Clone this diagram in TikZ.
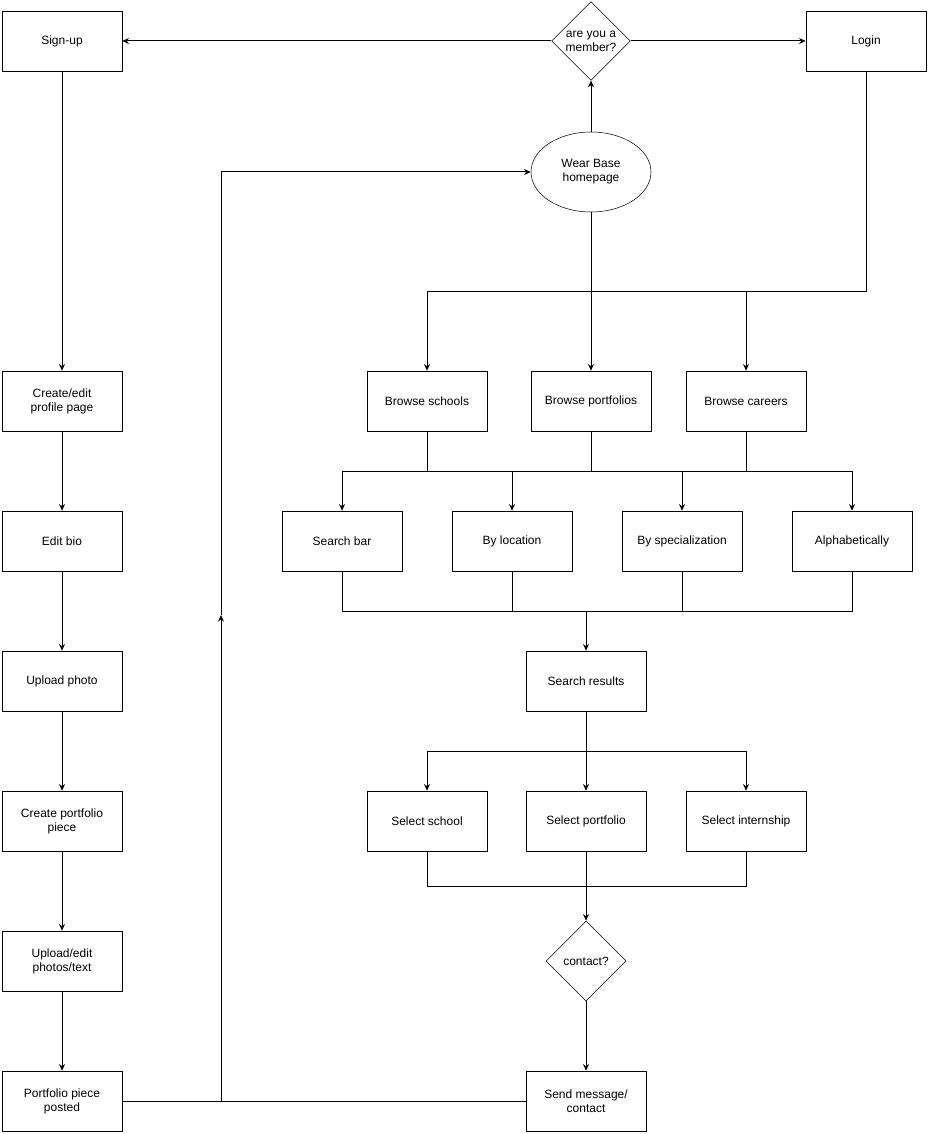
\documentclass[tikz,border=0pt]{standalone}
\usepackage{fontspec}
\setmainfont{Liberation Sans}
\usetikzlibrary{shapes.geometric,arrows.meta}
\begin{document}
\begin{tikzpicture}[x=0.75pt,y=-0.75pt,
  every node/.style={font=\fontsize{9}{10.5}\selectfont, align=center},
  box/.style={draw, rectangle, minimum width=90pt, minimum height=45pt, inner sep=0pt},
  dec/.style={draw, diamond, minimum width=60pt, minimum height=60pt, inner sep=0pt, aspect=1},
  oval/.style={draw, ellipse, minimum width=90pt, minimum height=60pt, inner sep=0pt},
  ln/.style={line width=0.75pt},
  arr/.style={ln, -{Stealth[length=5pt,width=4.5pt]}}]
\useasboundingbox (0,0) rectangle (937,1134);
% nodes
\node[box] (signup) at (62,41) {Sign-up};
\node[dec, minimum width=59pt, minimum height=59pt] (member) at (591,41) {are you a\\member?};
\node[box] (login) at (866,41) {Login};
\node[oval] (home) at (591,172) {Wear Base\\homepage};
\node[box] (profile) at (62,401) {Create/edit\\profile page};
\node[box] (bio) at (62,541) {Edit bio};
\node[box] (photo) at (62,681) {Upload photo};
\node[box] (piece) at (62,821) {Create portfolio\\piece};
\node[box] (uptext) at (62,961) {Upload/edit\\photos/text};
\node[box] (posted) at (62,1101) {Portfolio piece\\posted};
\node[box] (bschools) at (427,401) {Browse schools};
\node[box] (bport) at (591,401) {Browse portfolios};
\node[box] (bcareers) at (746,401) {Browse careers};
\node[box] (sbar) at (342,541) {Search bar};
\node[box] (loc) at (512,541) {By location};
\node[box] (spec) at (682,541) {By specialization};
\node[box] (alpha) at (852,541) {Alphabetically};
\node[box] (results) at (586,681) {Search results};
\node[box] (sschool) at (427,821) {Select school};
\node[box] (sport) at (586,821) {Select portfolio};
\node[box] (sintern) at (746,821) {Select internship};
\node[dec] (contact) at (586,961) {contact?};
\node[box] (send) at (586,1101) {Send message/\\contact};
% junction coordinates
\coordinate (j1) at (866,291);
\coordinate (j2) at (427,291);
\coordinate (j3) at (746,291);
\coordinate (k1) at (342,471);
\coordinate (k2) at (852,471);
\coordinate (m1) at (342,611);
\coordinate (m2) at (852,611);
\coordinate (m3) at (586,611);
\coordinate (n1) at (427,751);
\coordinate (n2) at (746,751);
\coordinate (n3) at (586,751);
\coordinate (p1) at (427,886);
\coordinate (p2) at (746,886);
\coordinate (p3) at (586,886);
\coordinate (q1) at (221,1101);
\coordinate (q2) at (221,172);
\coordinate (q3) at (221,615);
% edges top
\draw[arr] (home) -- (member);
\draw[arr] (member) -- (signup);
\draw[arr] (member) -- (login);
% left column
\draw[arr] (signup) -- (profile);
\draw[arr] (profile) -- (bio);
\draw[arr] (bio) -- (photo);
\draw[arr] (photo) -- (piece);
\draw[arr] (piece) -- (uptext);
\draw[arr] (uptext) -- (posted);
% login branch
\draw[ln] (login.south) -- (j1) -- (j2);
\draw[arr] (j2) -- (bschools);
\draw[arr] (j3) -- (bcareers);
\draw[arr] (home) -- (bport);
% browse to search
\draw[ln] (bschools.south) -- (bschools.south |- k1);
\draw[ln] (bport.south) -- (bport.south |- k1);
\draw[ln] (bcareers.south) -- (bcareers.south |- k1);
\draw[ln] (k1) -- (k2);
\draw[arr] (k1) -- (sbar);
\draw[arr] (loc.north |- k1) -- (loc);
\draw[arr] (spec.north |- k1) -- (spec);
\draw[arr] (k2) -- (alpha);
% search to results
\draw[ln] (sbar.south) -- (m1) -- (m2) -- (alpha.south);
\draw[ln] (loc.south) -- (loc.south |- m1);
\draw[ln] (spec.south) -- (spec.south |- m1);
\draw[arr] (m3) -- (results);
% results to selects
\draw[ln] (results.south) -- (n3);
\draw[ln] (n1) -- (n2);
\draw[arr] (n1) -- (sschool);
\draw[arr] (n3) -- (sport);
\draw[arr] (n2) -- (sintern);
% selects to contact
\draw[ln] (sschool.south) -- (p1) -- (p2) -- (sintern.south);
\draw[ln] (sport.south) -- (p3);
\draw[arr] (p3) -- (contact);
\draw[arr] (contact) -- (send);
% return loop
\draw[ln] (posted.east) -- (q1);
\draw[ln] (send.west) -- (q1);
\draw[arr] (q1) -- (q3);
\draw[ln] (q3) -- (q2);
\draw[arr] (q2) -- (home);
\end{tikzpicture}
\end{document}
